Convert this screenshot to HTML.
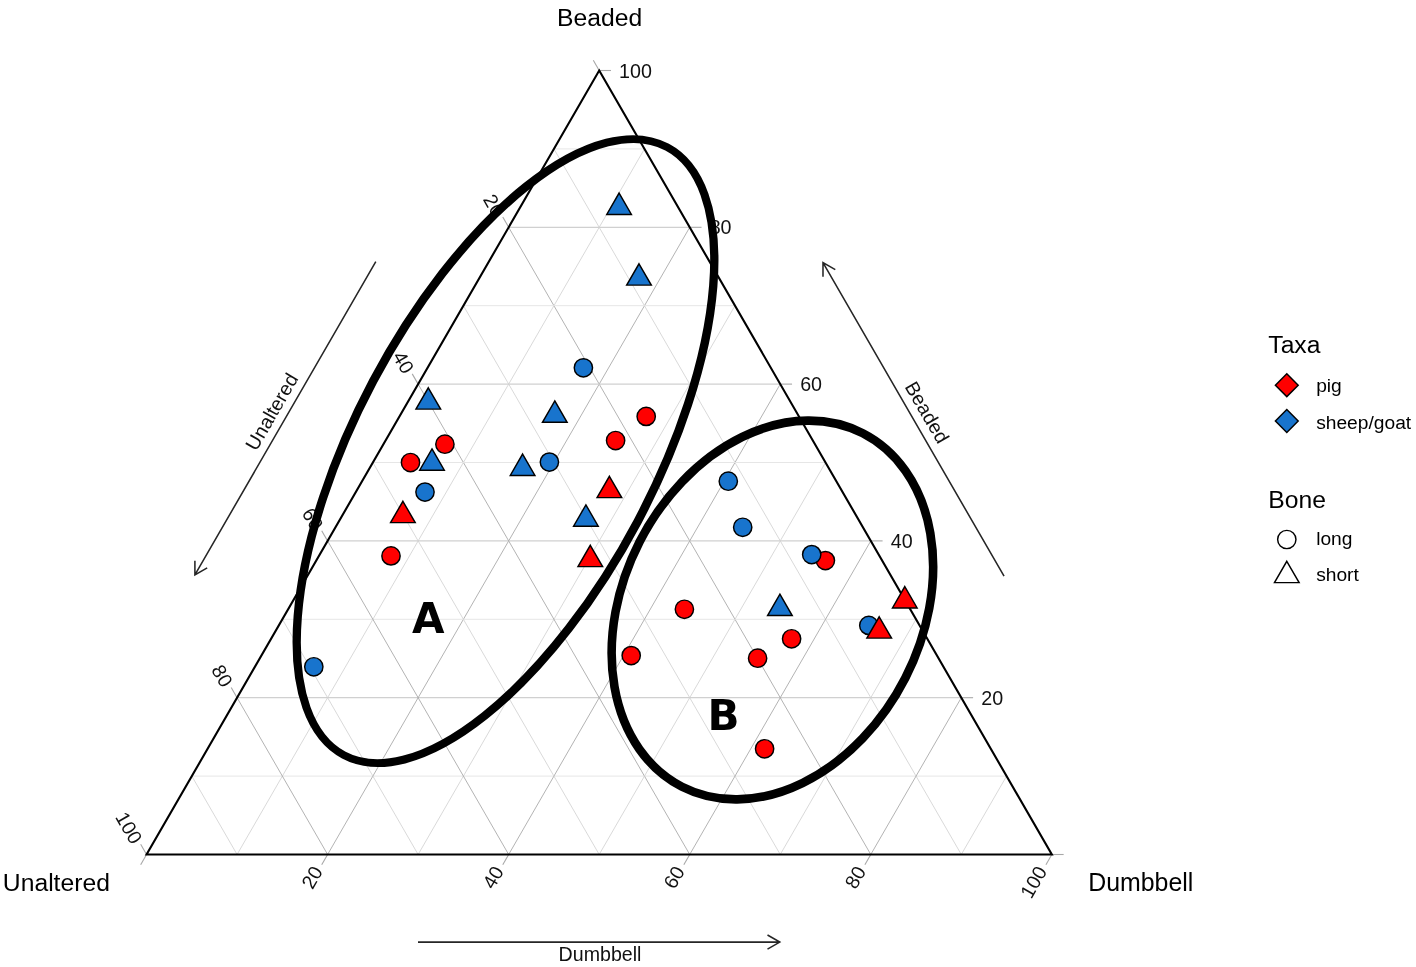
<!DOCTYPE html>
<html lang="en"><head><meta charset="utf-8"><title>Ternary plot</title>
<style>html,body{margin:0;padding:0;background:#fff}svg{display:block}text{font-family:"Liberation Sans",Arial,sans-serif;fill:#000}.tk{font-size:19.7px;fill:#111}.ttl{font-size:24.7px}.arr{font-size:19.6px;fill:#111}.leg{font-size:19.2px}.big{font-family:"DejaVu Sans","Liberation Sans",sans-serif;font-weight:bold;font-size:42px}</style></head><body>
<svg width="1416" height="967" viewBox="0 0 1416 967">
<rect width="1416" height="967" fill="#fff"/>
<g fill="none">
<line x1="191.82" y1="776.10" x2="1006.58" y2="776.10" stroke="#e6e6e6" stroke-width="1.0"/>
<line x1="553.94" y1="148.90" x2="961.31" y2="854.50" stroke="#d2d2d2" stroke-width="0.85"/>
<line x1="644.46" y1="148.90" x2="237.09" y2="854.50" stroke="#d2d2d2" stroke-width="0.85"/>
<line x1="237.09" y1="697.70" x2="961.31" y2="697.70" stroke="#d0d0d0" stroke-width="1.2"/>
<line x1="508.67" y1="227.30" x2="870.79" y2="854.50" stroke="#aaaaaa" stroke-width="0.9"/>
<line x1="689.73" y1="227.30" x2="327.61" y2="854.50" stroke="#aaaaaa" stroke-width="0.9"/>
<line x1="282.35" y1="619.30" x2="916.05" y2="619.30" stroke="#e6e6e6" stroke-width="1.0"/>
<line x1="463.41" y1="305.70" x2="780.26" y2="854.50" stroke="#d2d2d2" stroke-width="0.85"/>
<line x1="734.99" y1="305.70" x2="418.14" y2="854.50" stroke="#d2d2d2" stroke-width="0.85"/>
<line x1="327.61" y1="540.90" x2="870.79" y2="540.90" stroke="#d0d0d0" stroke-width="1.2"/>
<line x1="418.14" y1="384.10" x2="689.73" y2="854.50" stroke="#aaaaaa" stroke-width="0.9"/>
<line x1="780.26" y1="384.10" x2="508.67" y2="854.50" stroke="#aaaaaa" stroke-width="0.9"/>
<line x1="372.88" y1="462.50" x2="825.52" y2="462.50" stroke="#e6e6e6" stroke-width="1.0"/>
<line x1="372.88" y1="462.50" x2="599.20" y2="854.50" stroke="#d2d2d2" stroke-width="0.85"/>
<line x1="825.52" y1="462.50" x2="599.20" y2="854.50" stroke="#d2d2d2" stroke-width="0.85"/>
<line x1="418.14" y1="384.10" x2="780.26" y2="384.10" stroke="#d0d0d0" stroke-width="1.2"/>
<line x1="327.61" y1="540.90" x2="508.67" y2="854.50" stroke="#aaaaaa" stroke-width="0.9"/>
<line x1="870.79" y1="540.90" x2="689.73" y2="854.50" stroke="#aaaaaa" stroke-width="0.9"/>
<line x1="463.41" y1="305.70" x2="734.99" y2="305.70" stroke="#e6e6e6" stroke-width="1.0"/>
<line x1="282.35" y1="619.30" x2="418.14" y2="854.50" stroke="#d2d2d2" stroke-width="0.85"/>
<line x1="916.05" y1="619.30" x2="780.26" y2="854.50" stroke="#d2d2d2" stroke-width="0.85"/>
<line x1="508.67" y1="227.30" x2="689.73" y2="227.30" stroke="#d0d0d0" stroke-width="1.2"/>
<line x1="237.09" y1="697.70" x2="327.61" y2="854.50" stroke="#aaaaaa" stroke-width="0.9"/>
<line x1="961.31" y1="697.70" x2="870.79" y2="854.50" stroke="#aaaaaa" stroke-width="0.9"/>
<line x1="553.94" y1="148.90" x2="644.46" y2="148.90" stroke="#e6e6e6" stroke-width="1.0"/>
<line x1="191.82" y1="776.10" x2="237.09" y2="854.50" stroke="#d2d2d2" stroke-width="0.85"/>
<line x1="1006.58" y1="776.10" x2="961.31" y2="854.50" stroke="#d2d2d2" stroke-width="0.85"/>
</g>
<g stroke="#a8a8a8" stroke-width="1.1" fill="none">
<line x1="1051.84" y1="854.50" x2="1063.64" y2="854.50"/>
<line x1="599.20" y1="70.50" x2="593.30" y2="60.28"/>
<line x1="146.56" y1="854.50" x2="140.66" y2="864.72"/>
<line x1="961.31" y1="697.70" x2="973.11" y2="697.70"/>
<line x1="508.67" y1="227.30" x2="502.77" y2="217.08"/>
<line x1="327.61" y1="854.50" x2="321.71" y2="864.72"/>
<line x1="870.79" y1="540.90" x2="882.59" y2="540.90"/>
<line x1="418.14" y1="384.10" x2="412.24" y2="373.88"/>
<line x1="508.67" y1="854.50" x2="502.77" y2="864.72"/>
<line x1="780.26" y1="384.10" x2="792.06" y2="384.10"/>
<line x1="327.61" y1="540.90" x2="321.71" y2="530.68"/>
<line x1="689.73" y1="854.50" x2="683.83" y2="864.72"/>
<line x1="689.73" y1="227.30" x2="701.53" y2="227.30"/>
<line x1="237.09" y1="697.70" x2="231.19" y2="687.48"/>
<line x1="870.79" y1="854.50" x2="864.89" y2="864.72"/>
<line x1="599.20" y1="70.50" x2="611.00" y2="70.50"/>
<line x1="146.56" y1="854.50" x2="140.66" y2="844.28"/>
<line x1="1051.84" y1="854.50" x2="1045.94" y2="864.72"/>
</g>
<polygon points="599.20,70.50 1051.84,854.50 146.56,854.50" fill="none" stroke="#000" stroke-width="2.1" stroke-linejoin="miter"/>
<text class="tk" x="981.21" y="704.75">20</text>
<text class="tk" text-anchor="end" transform="translate(499.50,214.81) rotate(60)" x="0" y="7.05">20</text>
<text class="tk" text-anchor="end" transform="translate(317.32,867.73) rotate(-60)" x="0" y="7.05">20</text>
<text class="tk" x="890.69" y="547.95">40</text>
<text class="tk" text-anchor="end" transform="translate(408.97,371.61) rotate(60)" x="0" y="7.05">40</text>
<text class="tk" text-anchor="end" transform="translate(498.38,867.73) rotate(-60)" x="0" y="7.05">40</text>
<text class="tk" x="800.16" y="391.15">60</text>
<text class="tk" text-anchor="end" transform="translate(318.44,528.41) rotate(60)" x="0" y="7.05">60</text>
<text class="tk" text-anchor="end" transform="translate(679.44,867.73) rotate(-60)" x="0" y="7.05">60</text>
<text class="tk" x="709.63" y="234.35">80</text>
<text class="tk" text-anchor="end" transform="translate(227.91,685.21) rotate(60)" x="0" y="7.05">80</text>
<text class="tk" text-anchor="end" transform="translate(860.49,867.73) rotate(-60)" x="0" y="7.05">80</text>
<text class="tk" x="619.10" y="77.55">100</text>
<text class="tk" text-anchor="end" transform="translate(137.39,842.01) rotate(60)" x="0" y="7.05">100</text>
<text class="tk" text-anchor="end" transform="translate(1041.55,867.73) rotate(-60)" x="0" y="7.05">100</text>
<g>
<circle cx="646.2" cy="416.4" r="9.15" fill="#ff0000" stroke="#000" stroke-width="1.45"/>
<circle cx="615.6" cy="440.5" r="9.15" fill="#ff0000" stroke="#000" stroke-width="1.45"/>
<circle cx="444.9" cy="444.2" r="9.15" fill="#ff0000" stroke="#000" stroke-width="1.45"/>
<circle cx="410.5" cy="462.5" r="9.15" fill="#ff0000" stroke="#000" stroke-width="1.45"/>
<circle cx="391.0" cy="555.9" r="9.15" fill="#ff0000" stroke="#000" stroke-width="1.45"/>
<circle cx="825.4" cy="560.6" r="9.15" fill="#ff0000" stroke="#000" stroke-width="1.45"/>
<circle cx="684.4" cy="609.3" r="9.15" fill="#ff0000" stroke="#000" stroke-width="1.45"/>
<circle cx="631.2" cy="655.6" r="9.15" fill="#ff0000" stroke="#000" stroke-width="1.45"/>
<circle cx="757.6" cy="658.2" r="9.15" fill="#ff0000" stroke="#000" stroke-width="1.45"/>
<circle cx="791.6" cy="638.8" r="9.15" fill="#ff0000" stroke="#000" stroke-width="1.45"/>
<circle cx="764.6" cy="748.8" r="9.15" fill="#ff0000" stroke="#000" stroke-width="1.45"/>
<circle cx="583.4" cy="367.8" r="9.15" fill="#1874cd" stroke="#000" stroke-width="1.45"/>
<circle cx="549.4" cy="462.1" r="9.15" fill="#1874cd" stroke="#000" stroke-width="1.45"/>
<circle cx="425.0" cy="492.1" r="9.15" fill="#1874cd" stroke="#000" stroke-width="1.45"/>
<circle cx="313.8" cy="666.8" r="9.15" fill="#1874cd" stroke="#000" stroke-width="1.45"/>
<circle cx="728.3" cy="481.2" r="9.15" fill="#1874cd" stroke="#000" stroke-width="1.45"/>
<circle cx="742.7" cy="527.3" r="9.15" fill="#1874cd" stroke="#000" stroke-width="1.45"/>
<circle cx="811.7" cy="554.6" r="9.15" fill="#1874cd" stroke="#000" stroke-width="1.45"/>
<circle cx="868.8" cy="625.4" r="9.15" fill="#1874cd" stroke="#000" stroke-width="1.45"/>
<polygon points="619.10,193.07 631.42,214.42 606.78,214.42" fill="#1874cd" stroke="#000" stroke-width="1.45" stroke-linejoin="miter"/>
<polygon points="639.00,263.77 651.32,285.12 626.68,285.12" fill="#1874cd" stroke="#000" stroke-width="1.45" stroke-linejoin="miter"/>
<polygon points="428.30,387.77 440.62,409.12 415.98,409.12" fill="#1874cd" stroke="#000" stroke-width="1.45" stroke-linejoin="miter"/>
<polygon points="554.80,400.97 567.12,422.32 542.48,422.32" fill="#1874cd" stroke="#000" stroke-width="1.45" stroke-linejoin="miter"/>
<polygon points="432.00,448.87 444.32,470.22 419.68,470.22" fill="#1874cd" stroke="#000" stroke-width="1.45" stroke-linejoin="miter"/>
<polygon points="522.60,454.07 534.92,475.42 510.28,475.42" fill="#1874cd" stroke="#000" stroke-width="1.45" stroke-linejoin="miter"/>
<polygon points="585.90,504.87 598.22,526.22 573.58,526.22" fill="#1874cd" stroke="#000" stroke-width="1.45" stroke-linejoin="miter"/>
<polygon points="779.90,594.17 792.22,615.52 767.58,615.52" fill="#1874cd" stroke="#000" stroke-width="1.45" stroke-linejoin="miter"/>
<polygon points="609.40,476.27 621.72,497.62 597.08,497.62" fill="#ff0000" stroke="#000" stroke-width="1.45" stroke-linejoin="miter"/>
<polygon points="402.90,501.27 415.22,522.62 390.58,522.62" fill="#ff0000" stroke="#000" stroke-width="1.45" stroke-linejoin="miter"/>
<polygon points="590.30,545.27 602.62,566.62 577.98,566.62" fill="#ff0000" stroke="#000" stroke-width="1.45" stroke-linejoin="miter"/>
<polygon points="904.80,586.57 917.12,607.92 892.48,607.92" fill="#ff0000" stroke="#000" stroke-width="1.45" stroke-linejoin="miter"/>
<polygon points="879.20,616.77 891.52,638.12 866.88,638.12" fill="#ff0000" stroke="#000" stroke-width="1.45" stroke-linejoin="miter"/>
</g>
<g fill="none" stroke="#000">
<ellipse cx="0" cy="0" rx="344.3" ry="133.66" stroke-width="7.6" transform="translate(505.5,451.1) rotate(-62.0) scale(1,1.12)"/>
<ellipse cx="772.4" cy="610.0" rx="198.5" ry="149.3" stroke-width="8.6" transform="rotate(-62.9 772.4 610.0)"/>
</g>
<text class="big" text-anchor="middle" x="428.25" y="632.9">A</text>
<text class="big" text-anchor="middle" x="723.6" y="729.5">B</text>
<text class="ttl" x="2.85" y="890.5">Unaltered</text>
<text class="ttl" style="font-size:24.9px" x="1088.2" y="890.5">Dumbbell</text>
<text class="ttl" x="557.1" y="26.4">Beaded</text>
<path d="M418.00,942.10 L779.80,942.10 M767.50,949.20 L779.80,942.10 L767.50,935.00" fill="none" stroke="#262626" stroke-width="1.55" stroke-linejoin="miter"/>
<path d="M375.80,261.60 L194.90,574.90 M194.90,560.70 L194.90,574.90 L207.20,567.80" fill="none" stroke="#262626" stroke-width="1.55" stroke-linejoin="miter"/>
<path d="M1004.05,576.20 L822.99,262.60 M835.29,269.70 L822.99,262.60 L822.99,276.80" fill="none" stroke="#262626" stroke-width="1.55" stroke-linejoin="miter"/>
<text class="arr" text-anchor="middle" x="600" y="960.8">Dumbbell</text>
<text class="arr" text-anchor="middle" transform="translate(277.6,415.2) rotate(-60)" x="0" y="0">Unaltered</text>
<text class="arr" text-anchor="middle" transform="translate(921.2,415.7) rotate(60)" x="0" y="0">Beaded</text>
<text class="ttl" x="1268.3" y="352.9">Taxa</text>
<polygon points="1286.8,373.8 1298.2,385.2 1286.8,396.59999999999997 1275.3999999999999,385.2" fill="#ff0000" stroke="#000" stroke-width="1.45"/>
<polygon points="1286.8,409.6 1298.2,421.0 1286.8,432.4 1275.3999999999999,421.0" fill="#1874cd" stroke="#000" stroke-width="1.45"/>
<text class="leg" x="1316.2" y="392.3">pig</text>
<text class="leg" x="1316.2" y="428.6">sheep/goat</text>
<text class="ttl" x="1268.3" y="507.5">Bone</text>
<circle cx="1286.8" cy="539.5" r="9.15" fill="#fff" stroke="#000" stroke-width="1.45"/>
<polygon points="1286.80,561.27 1299.12,582.62 1274.48,582.62" fill="#fff" stroke="#000" stroke-width="1.45"/>
<text class="leg" x="1316.2" y="544.7">long</text>
<text class="leg" x="1316.2" y="580.8">short</text>
</svg></body></html>
